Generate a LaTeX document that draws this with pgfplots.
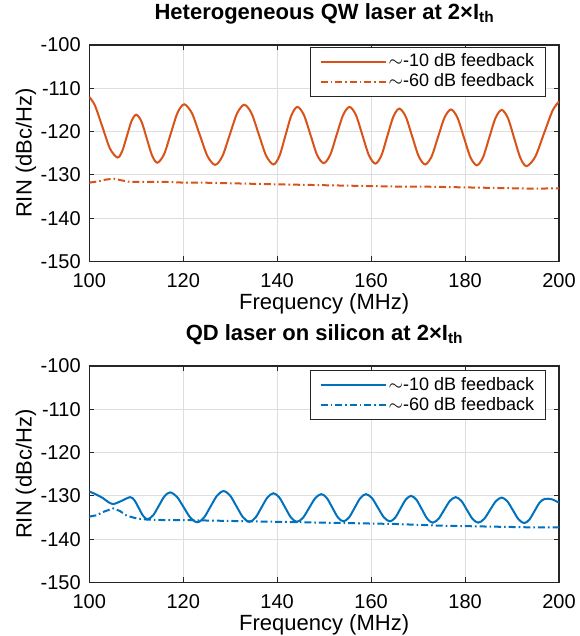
\documentclass[border=0pt]{standalone}
\usepackage{fontspec}
\setmainfont{Liberation Sans}
\usepackage{pgfplots}
\pgfplotsset{compat=1.18}
\definecolor{mlOrange}{RGB}{217,83,25}
\definecolor{mlBlue}{RGB}{0,114,189}
\definecolor{axisInk}{RGB}{38,38,38}
\definecolor{gridGray}{RGB}{222,222,222}

\pgfplotsset{
  rinaxis/.style={
    scale only axis, width=234.85pt, height=108.2pt,
    xmin=100, xmax=200, ymin=-150, ymax=-100,
    xtick={100,120,140,160,180,200},
    ytick={-150,-140,-130,-120,-110,-100},
    xticklabels={100,120,140,160,180,200},
    yticklabels={-150,-140,-130,-120,-110,-100},
    tick align=inside, xtick pos=both, ytick pos=both,
    xticklabel pos=bottom, yticklabel pos=left,
    major tick length=2.5pt,
    tick style={axisInk, line width=0.5pt},
    axis line style={axisInk, line width=0.8pt},
    grid=major, major grid style={gridGray, line width=0.5pt},
    ticklabel style={font=\fontsize{10}{12}\selectfont, text=black},
    xticklabel style={yshift=-2.6pt},
    yticklabel style={xshift=-0.8pt},
    xlabel={Frequency (MHz)},
    ylabel={RIN (dBc/Hz)},
    xlabel style={at={(axis description cs:0.5,-0.2241)}, anchor=base, font=\fontsize{11}{13}\selectfont},
    ylabel style={at={(axis description cs:-0.135,0.5)}, anchor=center, rotate=0, font=\fontsize{11}{13}\selectfont},
    title style={at={(axis description cs:0.5,1)}, anchor=base, yshift=6.8pt, font=\fontsize{11}{13}\selectfont\bfseries},
    legend cell align=left,
    legend image code/.code={\draw[#1] (0pt,0pt) -- (32.5pt,0pt);},
    legend style={at={(1,1)}, anchor=north east, xshift=-6.65pt, yshift=-0.8pt,
      draw=axisInk, line width=0.6pt, fill=white,
      inner xsep=4.5pt, inner ysep=2.25pt,
      nodes={inner sep=1pt, text depth=0.15em},
      font=\fontsize{9}{10.8}\selectfont},
  },
  fb10/.style={line width=1pt, smooth},
  fb60/.style={line width=1pt, dash pattern=on 3.5pt off 1.5pt on 0.8pt off 1.5pt},
}

\begin{document}
\begin{tikzpicture}
\useasboundingbox (-44.65pt,-187.3pt) rectangle (244.85pt,130.7pt);

\begin{axis}[rinaxis, at={(0,0)}, anchor=south west,
  title={Heterogeneous QW laser at 2×I\raisebox{-1.7pt}{\fontsize{7.7}{8}\selectfont th}}]
% ~-10 dB feedback, QW laser
\addplot[fb10, mlOrange] coordinates {
  (100,-112.0) (101.2,-113.97) (102.8,-118.95) (104.4,-123.93) (106.0,-126.0)
  (107,-124.55) (108,-121.05) (109,-117.55) (110.0,-116.1)
  (111.13,-117.73) (112.25,-121.65) (113.38,-125.57) (114.5,-127.2)
  (115.93,-125.22) (117.35,-120.45) (118.78,-115.68) (120.2,-113.7)
  (121.85,-115.75) (123.5,-120.7) (125.15,-125.65) (126.8,-127.7)
  (128.35,-125.66) (129.9,-120.75) (131.45,-115.84) (133.0,-113.8)
  (134.55,-115.82) (136.1,-120.7) (137.65,-125.58) (139.2,-127.6)
  (140.48,-125.65) (141.75,-120.95) (143.03,-116.25) (144.3,-114.3)
  (145.7,-116.2) (147.1,-120.8) (148.5,-125.4) (149.9,-127.3)
  (151.28,-125.4) (152.65,-120.8) (154.03,-116.2) (155.4,-114.3)
  (156.78,-116.22) (158.15,-120.85) (159.53,-125.48) (160.9,-127.4)
  (162.18,-125.54) (163.45,-121.05) (164.73,-116.56) (166.0,-114.7)
  (167.38,-116.59) (168.75,-121.15) (170.13,-125.71) (171.5,-127.6)
  (172.88,-125.74) (174.25,-121.25) (175.63,-116.76) (177.0,-114.9)
  (178.38,-116.79) (179.75,-121.35) (181.13,-125.91) (182.5,-127.8)
  (183.83,-125.92) (185.15,-121.4) (186.48,-116.88) (187.8,-115.0)
  (189.13,-116.9) (190.45,-121.5) (191.78,-126.1) (193.1,-128.0)
  (194.95,-125.79) (196.8,-120.45) (198.65,-115.11) (200,-113.07)
};
\addlegendentry{$\sim$-10 dB feedback}
% ~-60 dB feedback, QW laser
\addplot[fb60, mlOrange] coordinates {
  (100,-131.8) (102,-131.5) (103.5,-131.1) (105.2,-130.9) (107,-131.3)
  (108.5,-131.6) (112,-131.6) (116,-131.6) (120,-131.8) (124,-131.8)
  (128,-131.9) (132,-132.0) (136,-132.1) (140,-132.2) (145,-132.3)
  (150,-132.4) (155,-132.5) (160,-132.6) (165,-132.7) (170,-132.7)
  (175,-132.8) (180,-132.9) (185,-133.0) (190,-133.1) (195,-133.2) (200,-133.1)
};
\addlegendentry{$\sim$-60 dB feedback}
\end{axis}

\begin{axis}[rinaxis, at={(0,-160.5pt)}, anchor=south west,
  legend style={yshift=-1.2pt},
  title={QD laser on silicon at 2×I\raisebox{-1.7pt}{\fontsize{7.7}{8}\selectfont th}}]
% ~-10 dB feedback, QD laser
\addplot[fb10, mlBlue] coordinates {
  (100,-129.0) (101.5,-129.7) (103,-130.6) (104,-131.4) (105.1,-131.9)
  (106.8,-131.2) (108.7,-130.3)
  (109.63,-131.05) (110.55,-132.85) (111.48,-134.65) (112.4,-135.4)
  (113.6,-134.49) (114.8,-132.3) (116.0,-130.11) (117.2,-129.2)
  (118.65,-130.21) (120.1,-132.65) (121.55,-135.09) (123.0,-136.1)
  (124.4,-135.05) (125.8,-132.5) (127.2,-129.95) (128.6,-128.9)
  (129.98,-129.94) (131.35,-132.45) (132.73,-134.96) (134.1,-136.0)
  (135.38,-135.03) (136.65,-132.7) (137.93,-130.37) (139.2,-129.4)
  (140.45,-130.37) (141.7,-132.7) (142.95,-135.03) (144.2,-136.0)
  (145.5,-135.06) (146.8,-132.8) (148.1,-130.54) (149.4,-129.6)
  (150.58,-130.52) (151.75,-132.75) (152.93,-134.98) (154.1,-135.9)
  (155.3,-134.98) (156.5,-132.75) (157.7,-130.52) (158.9,-129.6)
  (160.18,-130.52) (161.45,-132.75) (162.73,-134.98) (164.0,-135.9)
  (165.13,-135.04) (166.25,-132.95) (167.38,-130.86) (168.5,-130.0)
  (169.65,-130.91) (170.8,-133.1) (171.95,-135.29) (173.1,-136.2)
  (174.33,-135.34) (175.55,-133.25) (176.78,-131.16) (178.0,-130.3)
  (179.2,-131.16) (180.4,-133.25) (181.6,-135.34) (182.8,-136.2)
  (184.05,-135.35) (185.3,-133.3) (186.55,-131.25) (187.8,-130.4)
  (189.0,-131.26) (190.2,-133.35) (191.4,-135.44) (192.6,-136.3)
  (193.7,-135.48) (194.8,-133.5) (195.9,-131.52) (197.0,-130.7)
  (198.5,-130.8) (200,-131.6)
};
\addlegendentry{$\sim$-10 dB feedback}
% ~-60 dB feedback, QD laser
\addplot[fb60, mlBlue] coordinates {
  (100,-134.8) (101.5,-134.5) (103,-133.7) (105.1,-132.9) (106.5,-133.5)
  (108,-134.6) (110,-135.2) (112.4,-135.5) (116,-135.6) (120,-135.6)
  (125,-135.7) (130,-135.8) (135,-135.9) (140,-136.0) (145,-136.1)
  (150,-136.2) (155,-136.3) (160,-136.4) (165,-136.5) (170,-136.7)
  (175,-136.9) (180,-137.0) (185,-137.1) (190,-137.2) (195,-137.3) (200,-137.3)
};
\addlegendentry{$\sim$-60 dB feedback}
\end{axis}
\end{tikzpicture}
\end{document}
